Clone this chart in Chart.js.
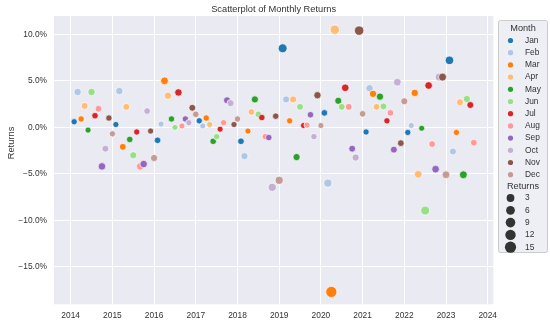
<!DOCTYPE html>
<html>
<head>
<meta charset="utf-8">
<script src="https://cdn.jsdelivr.net/npm/chart.js@4.4.1/dist/chart.umd.min.js"></script>
<style>
  html, body { margin: 0; padding: 0; background: #fff; }
  #wrap { width: 550px; height: 326px; }
</style>
</head>
<body>
<div id="wrap"><canvas id="chart" width="550" height="326"></canvas></div>
<script>
// Monthly returns in %
const monthNames = ['Jan', 'Feb', 'Mar', 'Apr', 'May', 'Jun', 'Jul', 'Aug', 'Sep', 'Oct', 'Nov', 'Dec'];
const monthColors = ['#1f77b4', '#aec7e8', '#ff7f0e', '#ffbb78', '#2ca02c', '#98df8a',
                     '#d62728', '#ff9896', '#9467bd', '#c5b0d5', '#8c564b', '#c49c94'];
const years = [2014, 2015, 2016, 2017, 2018, 2019, 2020, 2021, 2022, 2023];
const returns2014 = [0.6, 3.8, 0.9, 2.3, -0.3, 3.8, 1.25, 2.0, -4.2, -2.3, 1.0, -0.7];
const returns2015 = [0.3, 3.9, -2.1, 2.2, -1.3, -3.0, -0.5, -4.2, -3.95, 1.75, -0.4, -3.3];
const returns2016 = [-1.4, 0.35, 5.0, 3.4, 0.9, 0.0, 3.75, 0.15, 0.9, 0.5, 2.1, 1.4];
const returns2017 = [0.7, 0.15, 1.0, 0.3, -1.5, -1.0, -0.2, 0.5, 2.9, 2.6, 0.3, 0.9];
const returns2018 = [-1.5, -3.1, -0.4, 1.65, 3.0, 1.4, 1.05, -1.0, -1.1, -6.45, 1.2, -5.7];
const returns2019 = [8.5, 3.0, 0.7, 3.0, -3.2, 2.2, 0.2, 0.25, 1.35, -1.0, 3.45, 0.2];
const returns2020 = [1.55, -6.0, -17.7, 10.5, 2.85, 2.2, 4.25, 2.2, -2.3, -3.25, 10.4, 1.45];
const returns2021 = [-0.5, 4.2, 3.6, 2.2, 3.3, 2.25, 0.7, 1.55, -2.4, 4.85, -1.7, 2.8];
const returns2022 = [-0.55, 0.2, 3.7, -5.05, -0.1, -8.95, 4.5, -1.8, -4.5, 5.4, 5.4, -5.1];
const returns2023 = [7.2, -2.6, -0.55, 2.7, -5.1, 3.05, 2.4, -1.65];
const yearlyReturns = [returns2014, returns2015, returns2016, returns2017, returns2018,
                       returns2019, returns2020, returns2021, returns2022, returns2023];

const xTicks = [2014, 2015, 2016, 2017, 2018, 2019, 2020, 2021, 2022, 2023, 2024];
const yTicks = [-15, -10, -5, 0, 5, 10];
const sizeLegend = [3, 6, 9, 12, 15];

// flatten into chronological points (month end)
const points = [];
yearlyReturns.forEach((arr, yi) => {
  arr.forEach((v, m) => {
    points.push({ x: years[yi] + (m + 1) / 12, y: v, month: m });
  });
});

const absVals = points.map(p => Math.abs(p.y));
const vMin = Math.min(...absVals);
const vMax = Math.max(...absVals);
const rMin = 3, rMax = 5.6;
function sizeRadius(v) {
  const t = (Math.abs(v) - vMin) / (vMax - vMin);
  return Math.sqrt(rMin * rMin + (rMax * rMax - rMin * rMin) * t);
}

const FONT = "'Liberation Sans', Arial, sans-serif";
const TEXT = '#333333';

function fmtPct(v) {
  return (v < 0 ? '\u2212' : '') + Math.abs(v).toFixed(1) + '%';
}

// background, title, y label and the legend
const decor = {
  id: 'decor',
  beforeDraw(chart) {
    const { ctx, chartArea: a } = chart;
    ctx.save();
    ctx.fillStyle = '#fff';
    ctx.fillRect(0, 0, chart.width, chart.height);
    ctx.fillStyle = '#EAEAF2';
    ctx.fillRect(a.left, a.top, a.right - a.left, a.bottom - a.top);
    ctx.restore();
  },
  afterDraw(chart) {
    const { ctx, chartArea: a } = chart;
    ctx.save();
    ctx.fillStyle = TEXT;
    ctx.textBaseline = 'middle';
    ctx.textAlign = 'center';
    ctx.font = '9.3px ' + FONT;
    ctx.fillText('Scatterplot of Monthly Returns', (a.left + a.right) / 2, 9.5);

    ctx.save();
    ctx.translate(11, 143);
    ctx.rotate(-Math.PI / 2);
    ctx.fillText('Returns', 0, 0);
    ctx.restore();

    // legend box
    const bx = 498.5, by = 20.5, bw = 49, bh = 232;
    ctx.beginPath();
    ctx.roundRect(bx, by, bw, bh, 2);
    ctx.fillStyle = 'rgba(234,234,242,0.8)';
    ctx.fill();
    ctx.strokeStyle = '#cccccc';
    ctx.lineWidth = 1;
    ctx.stroke();

    ctx.fillStyle = TEXT;
    ctx.textAlign = 'center';
    ctx.font = '9.2px ' + FONT;
    ctx.fillText('Month', bx + bw / 2, 28.5);
    ctx.font = '8.4px ' + FONT;
    monthNames.forEach((name, i) => {
      const y = 40.5 + i * 12.2;
      ctx.beginPath();
      ctx.arc(510.5, y, 2.6, 0, Math.PI * 2);
      ctx.fillStyle = monthColors[i];
      ctx.fill();
      ctx.fillStyle = TEXT;
      ctx.textAlign = 'left';
      ctx.fillText(name, 525, y);
    });

    ctx.textAlign = 'center';
    ctx.font = '9.2px ' + FONT;
    ctx.fillText('Returns', bx + bw / 2, 186);
    ctx.font = '8.4px ' + FONT;
    sizeLegend.forEach((s, i) => {
      const y = 198 + i * 12.3;
      ctx.beginPath();
      ctx.arc(510.5, y, sizeRadius(s) + 0.3, 0, Math.PI * 2);
      ctx.fillStyle = '#333333';
      ctx.fill();
      ctx.fillStyle = TEXT;
      ctx.textAlign = 'left';
      ctx.fillText(String(s), 525, y);
    });
    ctx.restore();
  }
};

new Chart(document.getElementById('chart'), {
  type: 'scatter',
  data: {
    datasets: [{
      data: points,
      backgroundColor: c => monthColors[c.raw.month],
      borderColor: '#ffffff',
      borderWidth: 0.7,
      pointRadius: c => sizeRadius(c.raw.y),
      pointHoverRadius: c => sizeRadius(c.raw.y)
    }]
  },
  options: {
    responsive: false,
    devicePixelRatio: 1,
    animation: false,
    layout: { padding: { left: 0, right: 56.7, top: 16, bottom: 0 } },
    plugins: {
      legend: { display: false },
      title: { display: false },
      tooltip: { enabled: false }
    },
    scales: {
      x: {
        type: 'linear',
        min: 2013.60,
        max: 2024.134,
        afterFit: s => { s.height = 21.7; },
        afterBuildTicks: s => { s.ticks = xTicks.map(v => ({ value: v })); },
        grid: { color: '#ffffff', lineWidth: 1, drawTicks: false },
        border: { display: false },
        ticks: {
          padding: 6,
          color: TEXT,
          font: { family: FONT, size: 8.4 },
          callback: v => String(v)
        }
      },
      y: {
        min: -19.03,
        max: 11.97,
        afterFit: s => { s.width = 54; },
        afterBuildTicks: s => { s.ticks = yTicks.map(v => ({ value: v })); },
        grid: { color: '#ffffff', lineWidth: 1, drawTicks: false },
        border: { display: false },
        ticks: {
          padding: 7,
          color: TEXT,
          font: { family: FONT, size: 8.4 },
          callback: v => fmtPct(v)
        }
      }
    }
  },
  plugins: [decor]
});
</script>
</body>
</html>
